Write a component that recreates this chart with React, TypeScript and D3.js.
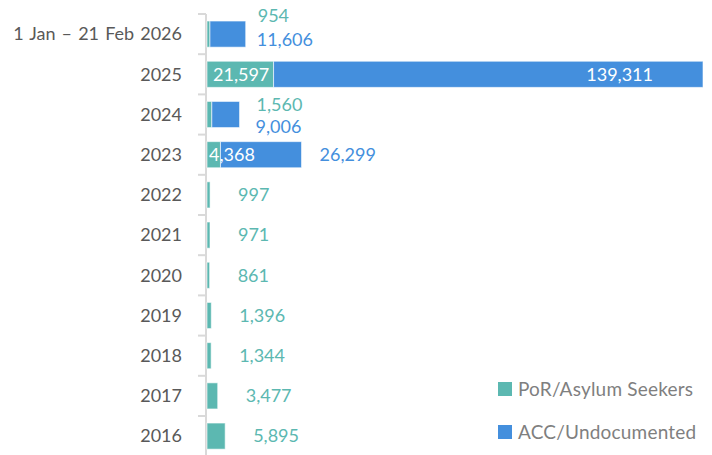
import React from "react";
import * as d3 from "d3";

const categories = [
  "1 Jan – 21 Feb 2026",
  "2025",
  "2024",
  "2023",
  "2022",
  "2021",
  "2020",
  "2019",
  "2018",
  "2017",
  "2016",
];
const porAsylum = [954, 21597, 1560, 4368, 997, 971, 861, 1396, 1344, 3477, 5895];
const accUndocumented = [11606, 139311, 9006, 26299, 0, 0, 0, 0, 0, 0, 0];
const seriesNames = ["PoR/Asylum Seekers", "ACC/Undocumented"];

const W = 712;
const H = 455;
const TEAL = "#5cb8b1";
const BLUE = "#448fdd";
const FONT = "Lato, 'Open Sans', sans-serif";

export default function App() {
  const totals = categories.map((_, i) => porAsylum[i] + accUndocumented[i]);
  const x = d3.scaleLinear().domain([0, d3.max(totals) as number]).range([207, 703]);
  const y = d3
    .scaleBand<string>()
    .domain(categories)
    .range([14, 14 + categories.length * 40.2])
    .paddingInner(0.35)
    .paddingOuter(0.175);
  const fmt = d3.format(",");
  const axisX = 206;
  const step = y.step();
  const tickYs = d3.range(categories.length + 1).map((k) => 14 + k * step);

  return (
    <svg width={W} height={H} style={{ position: "absolute", left: 0, top: 0 }} fontFamily={FONT}>
      <rect width={W} height={H} fill="#fff" />
      {/* axis */}
      <line x1={axisX} x2={axisX} y1={14} y2={H} stroke="#d9d9d9" strokeWidth={2} />
      {tickYs.map((ty, k) => (
        <line key={k} x1={198} x2={axisX} y1={ty} y2={ty} stroke="#d9d9d9" strokeWidth={2} />
      ))}
      {categories.map((c, i) => {
        const yc = (y(c) as number) + y.bandwidth() / 2;
        return (
          <text key={c} x={182} y={yc} dy="0.35em" textAnchor="end" fontSize={18} fill="#595959" wordSpacing={1.5}>
            {c}
          </text>
        );
      })}
      {/* bars */}
      {categories.map((c, i) => {
        const y0 = y(c) as number;
        const bh = y.bandwidth();
        const a = porAsylum[i];
        const b = accUndocumented[i];
        return (
          <g key={c}>
            <rect x={x(0)} y={y0} width={x(a) - x(0)} height={bh} fill={TEAL} stroke="#fff" strokeOpacity={0.6} strokeWidth={1} />
            {b > 0 && (
              <rect x={x(a)} y={y0} width={x(a + b) - x(a)} height={bh} fill={BLUE} stroke="#fff" strokeOpacity={0.6} strokeWidth={1} />
            )}
          </g>
        );
      })}
      {/* labels */}
      {categories.map((c, i) => {
        const yc = (y(c) as number) + y.bandwidth() / 2;
        const a = porAsylum[i];
        const b = accUndocumented[i];
        const end = x(a + b);
        const fs = 18;
        if (b === 0) {
          return (
            <text key={c} x={end + 28} y={yc} dy="0.35em" fontSize={fs} fill={TEAL}>
              {fmt(a)}
            </text>
          );
        }
        if (b > 100000) {
          return (
            <g key={c}>
              <text x={x(0) + 6} y={yc} dy="0.35em" fontSize={fs} fill="#fff">{fmt(a)}</text>
              <text x={end - 50} y={yc} dy="0.35em" textAnchor="end" fontSize={fs} fill="#fff">{fmt(b)}</text>
            </g>
          );
        }
        if (a > 4000) {
          return (
            <g key={c}>
              <text x={x(0) + 2} y={yc} dy="0.35em" fontSize={fs} fill="#fff">{fmt(a)}</text>
              <text x={end + 18} y={yc} dy="0.35em" fontSize={fs} fill={BLUE}>{fmt(b)}</text>
            </g>
          );
        }
        const offs = i === 0 ? [-18, 6, 11] : [-10, 12, 16];
        return (
          <g key={c}>
            <text x={end + offs[2] + 1} y={yc + offs[0]} dy="0.35em" fontSize={fs} fill={TEAL}>{fmt(a)}</text>
            <text x={end + offs[2]} y={yc + offs[1]} dy="0.35em" fontSize={fs} fill={BLUE}>{fmt(b)}</text>
          </g>
        );
      })}
      {/* legend */}
      {seriesNames.map((s, k) => {
        const ly = 389 + k * 43;
        return (
          <g key={s}>
            <rect x={498} y={ly - 7} width={14} height={14} fill={k === 0 ? TEAL : BLUE} />
            <text x={518} y={ly} dy="0.35em" fontSize={19} fill="#7f7f7f" letterSpacing={0.2}>{s}</text>
          </g>
        );
      })}
    </svg>
  );
}
